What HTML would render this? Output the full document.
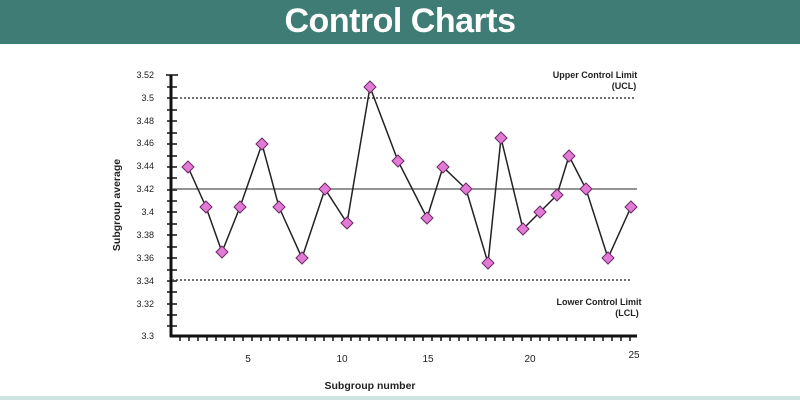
<!DOCTYPE html>
<html><head><style>
body{margin:0;width:800px;height:400px;overflow:hidden;background:#fff;font-family:"Liberation Sans",sans-serif}
.hd{position:absolute;left:0;top:0;width:800px;height:44px;background:#3e7c75;color:#fff;font-size:34px;font-weight:bold;text-align:center;line-height:42px;letter-spacing:-0.5px}
.ft{position:absolute;left:0;top:396px;width:800px;height:4px;background:#cfe5e2}
</style></head><body>
<div class="hd">Control Charts</div>
<svg width="800" height="400" style="position:absolute;left:0;top:0">
<g font-family="Liberation Sans,sans-serif" font-size="9" fill="#222" text-anchor="end">
<text x="154" y="78">3.52</text><text x="154" y="101">3.5</text><text x="154" y="124">3.48</text><text x="154" y="146">3.46</text><text x="154" y="169">3.44</text><text x="154" y="192">3.42</text><text x="154" y="215">3.4</text><text x="154" y="238">3.38</text><text x="154" y="261">3.36</text><text x="154" y="284">3.34</text><text x="154" y="307">3.32</text><text x="154" y="339">3.3</text>
</g>
<g stroke="#111" stroke-width="1.5">
<line x1="166" y1="75" x2="178" y2="75"/>
<path d="M167 87h10M167 98h10M167 110h10M167 121h10M167 133h10M167 144h10M167 156h10M167 167h10M167 178h10M167 190h10M167 201h10M167 212h10M167 224h10M167 235h10M167 247h10M167 258h10M167 270h10M167 281h10M167 292h10M167 304h10M167 315h10M167 326h10"/>
<path d="M180 336v5M189 336v5M198 336v5M207 336v5M216 336v5M225 336v5M234 336v5M243 336v5M252 336v5M261 336v5M270 336v5M279 336v5M288 336v5M297 336v5M306 336v5M315 336v5M324 336v5M333 336v5M342 336v5M351 336v5M360 336v5M369 336v5M378 336v5M387 336v5M396 336v5M405 336v5M414 336v5M423 336v5M432 336v5M441 336v5M450 336v5M459 336v5M468 336v5M477 336v5M486 336v5M495 336v5M504 336v5M513 336v5M522 336v5M531 336v5M540 336v5M549 336v5M558 336v5M567 336v5M576 336v5M585 336v5M594 336v5M603 336v5M612 336v5M621 336v5M630 336v5"/>
</g>
<line x1="171" y1="75" x2="171" y2="337" stroke="#111" stroke-width="3"/>
<line x1="170" y1="336" x2="637" y2="336" stroke="#111" stroke-width="3"/>
<line x1="172" y1="98" x2="636" y2="98" stroke="#444" stroke-width="1.5" stroke-dasharray="2,2"/>
<line x1="172" y1="280" x2="630" y2="280" stroke="#444" stroke-width="1.5" stroke-dasharray="2,2"/>
<line x1="172" y1="189" x2="637" y2="189" stroke="#555" stroke-width="1.2"/>
<polyline fill="none" stroke="#222" stroke-width="1.5" points="188,167 206,207 222,252 240,207 262,144 279,207 302,258 325,189 347,223 370,87 398,161 427,218 443,167 466,189 488,263 501,138 523,229 540,212 557,195 569,156 586,189 608,258 631,207"/>
<g fill="#e27ad6" stroke="#6a2a66" stroke-width="1">
<script>
</script>
<path d="M188 161l6 6-6 6-6-6zM206 201l6 6-6 6-6-6zM222 246l6 6-6 6-6-6zM240 201l6 6-6 6-6-6zM262 138l6 6-6 6-6-6zM279 201l6 6-6 6-6-6zM302 252l6 6-6 6-6-6zM325 183l6 6-6 6-6-6zM347 217l6 6-6 6-6-6zM370 81l6 6-6 6-6-6zM398 155l6 6-6 6-6-6zM427 212l6 6-6 6-6-6zM443 161l6 6-6 6-6-6zM466 183l6 6-6 6-6-6zM488 257l6 6-6 6-6-6zM501 132l6 6-6 6-6-6zM523 223l6 6-6 6-6-6zM540 206l6 6-6 6-6-6zM557 189l6 6-6 6-6-6zM569 150l6 6-6 6-6-6zM586 183l6 6-6 6-6-6zM608 252l6 6-6 6-6-6zM631 201l6 6-6 6-6-6z"/>
</g>
<g font-family="Liberation Sans,sans-serif" font-size="10" fill="#222" text-anchor="middle">
<text x="248" y="362">5</text><text x="342" y="362">10</text><text x="428" y="362">15</text><text x="530" y="362">20</text><text x="634" y="358">25</text>
</g>
<g font-family="Liberation Sans,sans-serif" font-size="9" font-weight="bold" fill="#222" text-anchor="middle">
<text x="595" y="78">Upper Control Limit</text><text x="624" y="89">(UCL)</text>
<text x="599" y="305">Lower Control Limit</text><text x="627" y="316">(LCL)</text>
<text x="370" y="389" font-size="10.5">Subgroup number</text>
<text transform="translate(120,205) rotate(-90)" font-size="10.5">Subgroup average</text>
</g>
</svg>
<div class="ft"></div>
</body></html>
